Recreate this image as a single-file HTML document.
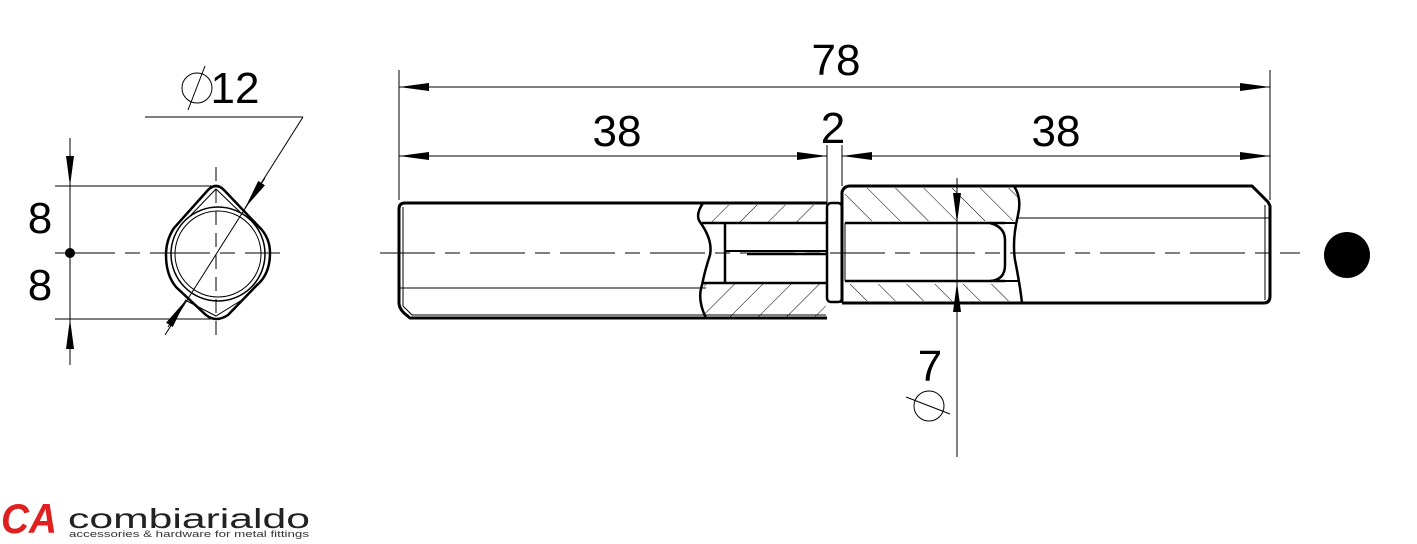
<!DOCTYPE html>
<html><head><meta charset="utf-8"><style>
html,body{margin:0;padding:0;background:#fff;width:1417px;height:544px;overflow:hidden}
text{font-family:"Liberation Sans",sans-serif}
</style></head><body>
<svg width="1417" height="544" viewBox="0 0 1417 544" xmlns="http://www.w3.org/2000/svg">
<defs>
<marker id="a" viewBox="0 0 30 10" refX="30" refY="5" markerWidth="30" markerHeight="10" markerUnits="userSpaceOnUse" orient="auto"><path d="M0,1 L30,5 L0,9 Z" fill="#000"/></marker>
<pattern id="h1" width="20" height="20" patternUnits="userSpaceOnUse" patternTransform="rotate(45)"><line x1="0" y1="0" x2="0" y2="20" stroke="#000" stroke-width="1"/></pattern>
<pattern id="h2" width="20" height="20" patternUnits="userSpaceOnUse" patternTransform="rotate(-45)"><line x1="0" y1="0" x2="0" y2="20" stroke="#000" stroke-width="1"/></pattern>
</defs>
<g stroke="#000" fill="none">
<line x1="399" y1="70" x2="399" y2="200" stroke-width="1"/>
<line x1="1270" y1="70" x2="1270" y2="200" stroke-width="1"/>
<line x1="430" y1="87" x2="1240" y2="87" stroke-width="1"/>
<line x1="1240" y1="87" x2="1270" y2="87" marker-end="url(#a)"/>
<line x1="430" y1="87" x2="399" y2="87" marker-end="url(#a)"/>
<line x1="399" y1="156" x2="827" y2="156" stroke-width="1"/>
<line x1="430" y1="156" x2="399" y2="156" marker-end="url(#a)"/>
<line x1="797" y1="156" x2="827" y2="156" marker-end="url(#a)"/>
<line x1="842" y1="156" x2="1270" y2="156" stroke-width="1"/>
<line x1="872" y1="156" x2="842" y2="156" marker-end="url(#a)"/>
<line x1="1240" y1="156" x2="1270" y2="156" marker-end="url(#a)"/>
<line x1="827" y1="145" x2="827" y2="203" stroke-width="1"/>
<line x1="842" y1="145" x2="842" y2="186" stroke-width="1"/>
<path d="M703,205 L826,205 L826,222 L706,222 Z" fill="url(#h1)" stroke="none"/>
<path d="M704,284 L826,284 L826,317 L705,317 Z" fill="url(#h1)" stroke="none"/>
<path d="M845,188 L1018,188 L1020,221 L845,221 Z" fill="url(#h2)" stroke="none"/>
<path d="M845,284 L1020,284 L1022,301 L845,301 Z" fill="url(#h2)" stroke="none"/>
<path d="M827,203 L405,203 Q399,203 399,209 L399,303 Q399,308 404,313 L410,318 L827,318" stroke-width="3"/>
<path d="M403,207 L403,306 L412,315 L826,315" stroke-width="1"/>
<line x1="400" y1="288" x2="706" y2="288" stroke-width="1"/>
<path d="M703,203 Q695,215 700,222 Q713,240 710,255 Q705,270 702,285 Q697,300 706,318" stroke-width="2.5"/>
<line x1="702" y1="223" x2="827" y2="223" stroke-width="2.5"/>
<line x1="702" y1="283" x2="827" y2="283" stroke-width="2.5"/>
<line x1="725" y1="223" x2="725" y2="283" stroke-width="2.5"/>
<line x1="725" y1="251" x2="827" y2="251" stroke-width="2"/>
<line x1="747" y1="254" x2="827" y2="254" stroke-width="2.5"/>
<rect x="827" y="203" width="15" height="99" rx="4" stroke-width="2.5"/>
<path d="M842,303 L842,192 Q844,186 850,186 L1252,186 L1268,202 L1270,206 L1270,296 Q1270,303 1264,303 L842,303" stroke-width="3"/>
<line x1="1265" y1="205" x2="1265" y2="300" stroke-width="1"/>
<line x1="845" y1="223" x2="1005" y2="223" stroke-width="2.5"/>
<line x1="845" y1="281" x2="1005" y2="281" stroke-width="2.5"/>
<line x1="845" y1="223" x2="845" y2="281" stroke-width="1"/>
<path d="M990,223 Q1005,227 1005,240 L1005,265 Q1005,280 990,281" stroke-width="2.5"/>
<path d="M1014,186 Q1022,198 1018,215 Q1012,240 1015,260 Q1020,285 1022,303" stroke-width="2.5"/>
<line x1="1017" y1="218" x2="1270" y2="218" stroke-width="1"/>
<line x1="1005" y1="223" x2="1015" y2="223" stroke-width="2"/>
<line x1="1005" y1="281" x2="1020" y2="281" stroke-width="2"/>
<line x1="380" y1="253" x2="1300" y2="253" stroke-width="1" stroke-dasharray="55,10,15,10"/>
<line x1="957" y1="178" x2="957" y2="457" stroke-width="1"/>
<line x1="957" y1="193" x2="957" y2="223" marker-end="url(#a)"/>
<line x1="957" y1="312" x2="957" y2="282" marker-end="url(#a)"/>
<circle cx="929" cy="406" r="15" stroke-width="1"/>
<line x1="906" y1="397" x2="950" y2="414" stroke-width="1"/>
<line x1="70" y1="138" x2="70" y2="365" stroke-width="1"/>
<line x1="70" y1="155" x2="70" y2="186" marker-end="url(#a)"/>
<line x1="70" y1="350" x2="70" y2="319" marker-end="url(#a)"/>
<line x1="55" y1="186" x2="214" y2="186" stroke-width="1"/>
<line x1="55" y1="319" x2="214" y2="319" stroke-width="1"/>
<line x1="55" y1="253" x2="280" y2="253" stroke-width="1" stroke-dasharray="60,10,15,10"/>
<line x1="216" y1="167" x2="216" y2="340" stroke-width="1" stroke-dasharray="14,8"/>
<path d="M208,190 Q216,182 224,190 L262,230 Q270,240 270,253 Q270,274 257,285 L228,315 Q216,323 206,315 L176,287 Q166,275 166,255 Q166,240 174,228 Z" stroke-width="2.5"/>
<circle cx="218" cy="254" r="47" stroke-width="1.5"/>
<circle cx="218" cy="254" r="43" stroke-width="1"/>
<path d="M190,216 L216,189 L241,213" stroke-width="1"/>
<path d="M185,300 L216,316 L245,298" stroke-width="1"/>
<line x1="145" y1="117" x2="303" y2="117" stroke-width="1"/>
<line x1="303" y1="117" x2="165" y2="335" stroke-width="1"/>
<line x1="265" y1="178" x2="245" y2="208" marker-end="url(#a)"/>
<line x1="168" y1="327" x2="186" y2="300" marker-end="url(#a)"/>
<circle cx="197" cy="88" r="15" stroke-width="1"/>
<line x1="188" y1="110" x2="205" y2="66" stroke-width="1"/>
</g>
<circle cx="70" cy="253" r="5" fill="#000"/>
<circle cx="1347" cy="255" r="23" fill="#000"/>
<g font-size="44" fill="#000" text-anchor="middle">
<text x="836" y="75">78</text>
<text x="617" y="146">38</text>
<text x="833" y="143">2</text>
<text x="1056" y="146">38</text>
<text x="930" y="381">7</text>
<text x="40" y="233">8</text>
<text x="40" y="300">8</text>
<text x="235" y="103">12</text>
</g>
<text x="1" y="533" font-size="42" font-weight="bold" fill="#e02020" font-style="italic" textLength="56" lengthAdjust="spacingAndGlyphs">CA</text>
<text x="68" y="528" font-size="28" fill="#222" textLength="242" lengthAdjust="spacingAndGlyphs">combiarialdo</text>
<text x="69" y="537" font-size="9" fill="#333" textLength="240" lengthAdjust="spacingAndGlyphs">accessories &amp; hardware for metal fittings</text>
</svg>
</body></html>
